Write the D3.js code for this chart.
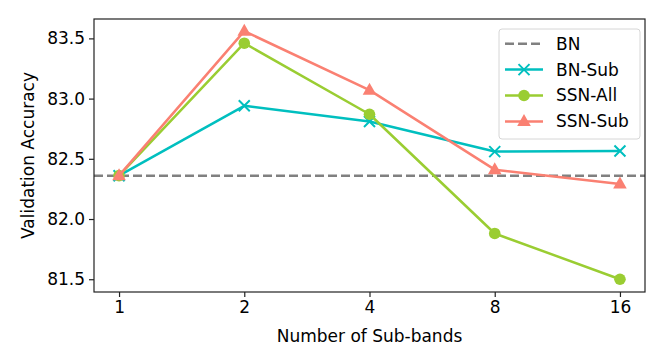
<!DOCTYPE html>
<html>
<head>
<meta charset="utf-8">
<script src="https://cdn.jsdelivr.net/npm/d3@7"></script>
<style>
  body { margin: 0; background: #fff; }
  text { font-family: "DejaVu Sans", sans-serif; fill: #000; }
</style>
</head>
<body>
<div id="chart"></div>
<script>
// data
var subBands = ["1", "2", "4", "8", "16"];
var bnValue = 82.36;
var bnSub = [82.36, 82.94, 82.81, 82.56, 82.565];
var ssnAll = [82.36, 83.46, 82.87, 81.88, 81.50];
var ssnSub = [82.36, 83.56, 83.07, 82.41, 82.29];
var yTicks = [81.5, 82.0, 82.5, 83.0, 83.5];

var width = 664, height = 364;
var plotL = 94, plotR = 645, plotT = 19, plotB = 292;
var fontSize = "17px";
var lw = 2.5;

var svg = d3.select("#chart").append("svg")
  .attr("width", width)
  .attr("height", height);

var x = d3.scaleLinear().domain([-0.2, 4.2]).range([plotL, plotR]);
var y = d3.scaleLinear().domain([81.394, 83.661]).range([plotB, plotT]);

var series = [
  { name: "BN-Sub", values: bnSub, color: "#00bfbf", marker: "x" },
  { name: "SSN-All", values: ssnAll, color: "#9acd32", marker: "circle" },
  { name: "SSN-Sub", values: ssnSub, color: "#fa8072", marker: "triangle" }
];

var line = d3.line()
  .x(function(d, i) { return x(i); })
  .y(function(d) { return y(d); });

// baseline BN
svg.append("line")
  .attr("x1", plotL).attr("x2", plotR)
  .attr("y1", y(bnValue)).attr("y2", y(bnValue))
  .attr("stroke", "#808080")
  .attr("stroke-width", lw)
  .attr("stroke-dasharray", "9,4");

function drawMarker(g, type, color) {
  if (type === "circle") {
    g.append("circle").attr("r", 5.8).attr("fill", color);
  } else if (type === "triangle") {
    g.append("path").attr("d", "M0,-7.5L6.8,4.5L-6.8,4.5Z").attr("fill", color);
  } else {
    g.append("path").attr("d", "M-5.5,-5.5L5.5,5.5M-5.5,5.5L5.5,-5.5")
      .attr("stroke", color).attr("stroke-width", 2).attr("fill", "none");
  }
}

series.forEach(function(s) {
  svg.append("path")
    .datum(s.values)
    .attr("d", line)
    .attr("fill", "none")
    .attr("stroke", s.color)
    .attr("stroke-width", lw)
    .attr("stroke-linejoin", "round");
  s.values.forEach(function(v, i) {
    var g = svg.append("g").attr("transform", "translate(" + x(i) + "," + y(v) + ")");
    drawMarker(g, s.marker, s.color);
  });
});

// axes
var xAxis = d3.axisBottom(x)
  .tickValues(d3.range(subBands.length))
  .tickFormat(function(i) { return subBands[i]; })
  .tickSize(5).tickPadding(4);
var yAxis = d3.axisLeft(y)
  .tickValues(yTicks)
  .tickFormat(d3.format(".1f"))
  .tickSize(5).tickPadding(4);

var gx = svg.append("g").attr("transform", "translate(0," + plotB + ")").call(xAxis);
var gy = svg.append("g").attr("transform", "translate(" + plotL + ",0)").call(yAxis);
[gx, gy].forEach(function(g) {
  g.select(".domain").remove();
  g.selectAll(".tick line").attr("stroke", "#222").attr("stroke-width", 1.2);
  g.selectAll(".tick text").style("font-size", fontSize).attr("fill", "#000");
});

// frame
svg.append("rect")
  .attr("x", plotL).attr("y", plotT)
  .attr("width", plotR - plotL).attr("height", plotB - plotT)
  .attr("fill", "none").attr("stroke", "#222").attr("stroke-width", 1.2);

// axis labels
svg.append("text")
  .attr("x", (plotL + plotR) / 2).attr("y", 342)
  .attr("text-anchor", "middle")
  .style("font-size", fontSize)
  .text("Number of Sub-bands");
svg.append("text")
  .attr("transform", "translate(34," + ((plotT + plotB) / 2) + ") rotate(-90)")
  .attr("text-anchor", "middle")
  .style("font-size", fontSize)
  .text("Validation Accuracy");

// legend
var legendItems = [{ name: "BN", color: "#808080", marker: "dash" }].concat(series);
var legend = svg.append("g");
legend.append("rect")
  .attr("x", 499).attr("y", 29).attr("width", 141).attr("height", 110).attr("rx", 3)
  .attr("fill", "#fff").attr("fill-opacity", 0.8)
  .attr("stroke", "#d6d6d6").attr("stroke-width", 1);
legendItems.forEach(function(s, i) {
  var ly = 43.7 + i * 25.9;
  var l = legend.append("line")
    .attr("x1", 505).attr("x2", 543).attr("y1", ly).attr("y2", ly)
    .attr("stroke", s.color).attr("stroke-width", lw);
  if (s.marker === "dash") {
    l.attr("stroke-dasharray", "9,4");
  } else {
    var g = legend.append("g").attr("transform", "translate(524," + ly + ")");
    drawMarker(g, s.marker, s.color);
  }
  legend.append("text")
    .attr("x", 556).attr("y", ly).attr("dy", "0.35em")
    .style("font-size", fontSize)
    .text(s.name);
});
</script>
</body>
</html>
